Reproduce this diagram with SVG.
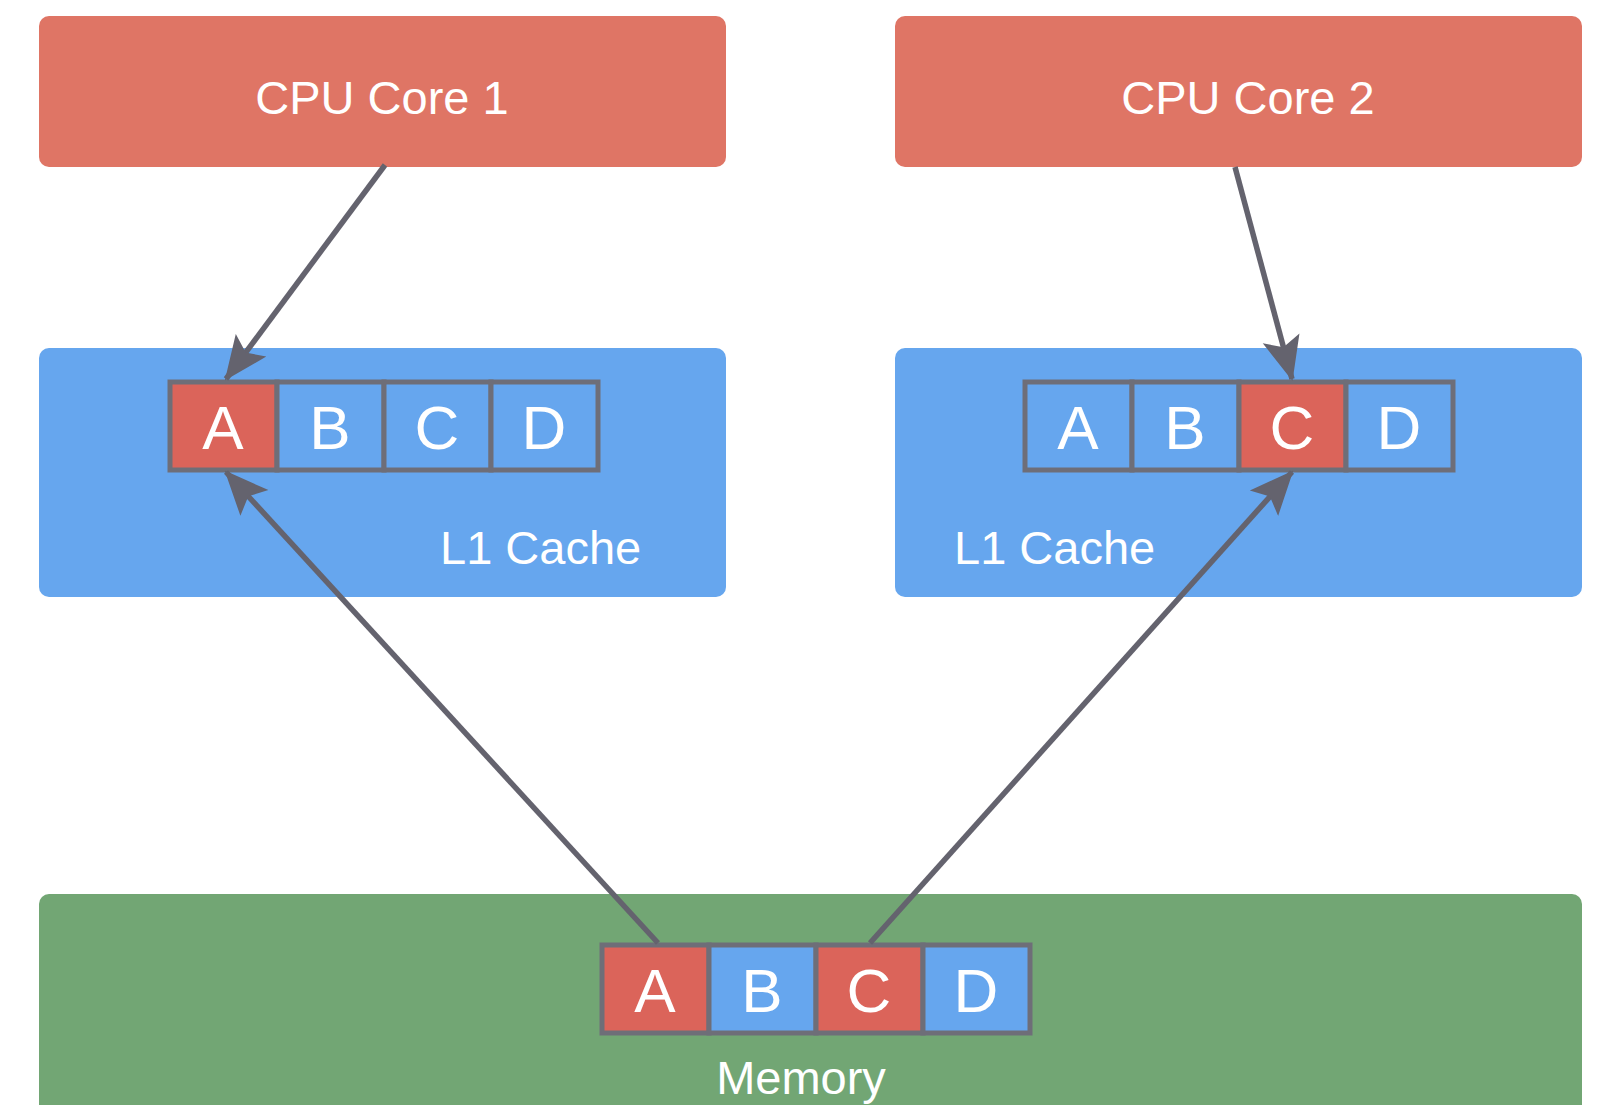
<svg xmlns="http://www.w3.org/2000/svg" width="1599" height="1105" viewBox="0 0 1599 1105">
<style>
.cpu{fill:#DF7565}.l1{fill:#66A6EE}.mem{fill:#72A674}
.cr{fill:#DB645A;stroke:#6E6E78;stroke-width:5}.cb{fill:#66A6EE;stroke:#6E6E78;stroke-width:5}
.t{font-family:"Liberation Sans",Arial,sans-serif;fill:#fff}
.lab{font-size:47px}.cl{font-size:62px;text-anchor:middle}
.c{stroke:#64636E;stroke-width:5.5;fill:none}
</style>
<defs><marker id="ah" viewBox="0 0 44 40" refX="42" refY="20" markerWidth="44" markerHeight="40" markerUnits="userSpaceOnUse" orient="auto"><path d="M0,1 L44,20 L0,39 L9,20 Z" fill="#64636E"/></marker></defs>
<rect width="1599" height="1105" fill="#fff"/>
<g id="cpu1"><rect class="cpu" x="39" y="16" width="687" height="151" rx="10"/><text class="t lab" x="382" y="114" text-anchor="middle">CPU Core 1</text></g>
<g id="cpu2"><rect class="cpu" x="895" y="16" width="687" height="151" rx="10"/><text class="t lab" x="1248" y="114" text-anchor="middle">CPU Core 2</text></g>
<g id="l1a"><rect class="l1" x="39" y="348" width="687" height="249" rx="10"/>
<rect class="cr" x="170" y="382" width="107" height="88"/><rect class="cb" x="277" y="382" width="107" height="88"/><rect class="cb" x="384" y="382" width="107" height="88"/><rect class="cb" x="491" y="382" width="107" height="88"/>
<text class="t cl" x="223" y="449">A</text><text class="t cl" x="330" y="449">B</text><text class="t cl" x="437" y="449">C</text><text class="t cl" x="544" y="449">D</text>
<text class="t lab" x="440" y="564">L1 Cache</text></g>
<g id="l1b"><rect class="l1" x="895" y="348" width="687" height="249" rx="10"/>
<rect class="cb" x="1025" y="382" width="107" height="88"/><rect class="cb" x="1132" y="382" width="107" height="88"/><rect class="cr" x="1239" y="382" width="107" height="88"/><rect class="cb" x="1346" y="382" width="107" height="88"/>
<text class="t cl" x="1078" y="449">A</text><text class="t cl" x="1185" y="449">B</text><text class="t cl" x="1292" y="449">C</text><text class="t cl" x="1399" y="449">D</text>
<text class="t lab" x="954" y="564">L1 Cache</text></g>
<g id="memory"><rect class="mem" x="39" y="894" width="1543" height="230" rx="10"/>
<rect class="cr" x="602" y="945" width="107" height="88"/><rect class="cb" x="709" y="945" width="107" height="88"/><rect class="cr" x="816" y="945" width="107" height="88"/><rect class="cb" x="923" y="945" width="107" height="88"/>
<text class="t cl" x="655" y="1012">A</text><text class="t cl" x="762" y="1012">B</text><text class="t cl" x="869" y="1012">C</text><text class="t cl" x="976" y="1012">D</text>
<text class="t lab" x="801" y="1094" text-anchor="middle">Memory</text></g>
<g id="connectors">
<line class="c" x1="385" y1="165" x2="226" y2="379" marker-end="url(#ah)"/>
<line class="c" x1="1235" y1="167" x2="1292" y2="379" marker-end="url(#ah)"/>
<line class="c" x1="658" y1="943" x2="226" y2="472" marker-end="url(#ah)"/>
<line class="c" x1="870" y1="943" x2="1292" y2="472" marker-end="url(#ah)"/>
</g>
</svg>
